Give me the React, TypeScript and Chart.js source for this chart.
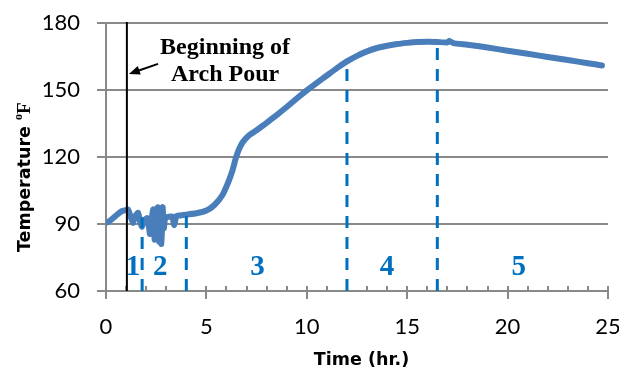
import React, { useEffect, useRef } from "react";
import { Chart, registerables } from "chart.js";

Chart.register(...registerables);

// Measured temperature series (time in hours, temperature in °F)
const timeHr: number[] = [
  0, 0.2, 0.4, 0.6, 0.8, 1.0, 1.1, 1.2, 1.34, 1.45, 1.6, 1.7, 1.79, 1.9, 2.04, 2.12,
  2.19, 2.27, 2.35, 2.42, 2.5, 2.58, 2.64, 2.7, 2.76, 2.82, 2.88, 2.95, 3.1, 3.3,
  3.4, 3.5, 3.7, 4.0, 4.5, 5.0, 5.4, 5.8, 6.1, 6.3, 6.45, 6.6, 6.8, 7.1, 7.5, 8.0,
  8.5, 9.0, 9.5, 10.0, 10.5, 11.0, 11.5, 12.0, 12.5, 13.0, 13.5, 14.0, 14.5, 15.0,
  15.5, 16.0, 16.5, 17.0, 17.1, 17.3, 18.0, 19.0, 20.0, 21.0, 22.0, 23.0, 24.0, 24.7,
];
const tempF: number[] = [
  90.5, 91.5, 93, 94.5, 95.8, 96.3, 96.5, 94, 90.5, 93.5, 95, 91, 88.7, 91.5, 92.7, 90,
  85.5, 92, 96.5, 83, 93, 97.5, 82, 96, 81, 97.5, 88, 93, 93.2, 93.3,
  89.5, 93.5, 93.8, 94.2, 94.8, 96, 98.5, 103, 109, 114, 119, 123, 126.5, 129.5, 132, 135.3,
  138.8, 142.4, 146.2, 149.8, 153.2, 156.5, 159.8, 162.8, 165.3, 167.3, 168.8, 169.8, 170.6, 171.1,
  171.5, 171.6, 171.5, 171.3, 172, 171, 170.3, 169, 167.6, 166.2, 164.8, 163.4, 162, 161,
];

// Phase boundaries (hr) and where each dashed marker meets the curve (°F)
const phaseBoundaries: number[] = [1.8, 4, 12, 16.5];
const phaseBoundaryTops: number[] = [93, 93.5, 163.5, 171.5];
// Phase labels and their anchor times
const phaseLabels: string[] = ["1", "2", "3", "4", "5"];
const phaseLabelTimes: number[] = [1.35, 2.7, 7.55, 14.0, 20.55];
// Start of arch pour
const pourStartHr = 1.04;

const xTicks: number[] = [0, 5, 10, 15, 20, 25];
const yTicks: number[] = [60, 90, 120, 150, 180];

const GRID = "#898989";
const BLUE_LINE = "#4A7EBB";
const BLUE_TEXT = "#0070C0";

const overlayPlugin = {
  id: "overlay",
  afterDatasetsDraw(chart: any) {
    const { ctx, chartArea } = chart;
    const xs = chart.scales.x;
    const ys = chart.scales.y;
    ctx.save();

    // x axis line and ticks
    ctx.strokeStyle = GRID;
    ctx.lineWidth = 2;
    const axisY = ys.getPixelForValue(60);
    ctx.beginPath();
    ctx.moveTo(chartArea.left, axisY);
    ctx.lineTo(xs.getPixelForValue(25) + 1, axisY);
    ctx.stroke();
    for (let t = 0; t <= 25; t++) {
      const px = Math.round(xs.getPixelForValue(t));
      const major = t % 5 === 0;
      ctx.beginPath();
      ctx.moveTo(px, axisY - 5);
      ctx.lineTo(px, axisY + (major ? 8 : 0));
      ctx.stroke();
    }

    // dashed phase boundaries
    ctx.strokeStyle = BLUE_TEXT;
    ctx.lineWidth = 3;
    ctx.setLineDash([12, 9]);
    phaseBoundaries.forEach((t, i) => {
      const px = xs.getPixelForValue(t);
      ctx.beginPath();
      ctx.moveTo(px, axisY);
      ctx.lineTo(px, ys.getPixelForValue(phaseBoundaryTops[i]));
      ctx.stroke();
    });
    ctx.setLineDash([]);

    // pour start line
    ctx.strokeStyle = "#000";
    ctx.lineWidth = 2;
    const bx = xs.getPixelForValue(pourStartHr);
    ctx.beginPath();
    ctx.moveTo(bx, chartArea.top - 1);
    ctx.lineTo(bx, axisY);
    ctx.stroke();

    // arrow
    const ax1 = xs.getPixelForValue(2.59);
    const ay1 = ys.getPixelForValue(161.7);
    const ax2 = bx + 2;
    const ay2 = ys.getPixelForValue(157.2);
    const ang = Math.atan2(ay2 - ay1, ax2 - ax1);
    ctx.lineWidth = 2;
    ctx.beginPath();
    ctx.moveTo(ax1, ay1);
    ctx.lineTo(ax2 - 6 * Math.cos(ang), ay2 - 6 * Math.sin(ang));
    ctx.stroke();
    ctx.fillStyle = "#000";
    ctx.beginPath();
    ctx.moveTo(ax2, ay2);
    ctx.lineTo(ax2 - 11 * Math.cos(ang) + 4.5 * Math.sin(ang), ay2 - 11 * Math.sin(ang) - 4.5 * Math.cos(ang));
    ctx.lineTo(ax2 - 11 * Math.cos(ang) - 4.5 * Math.sin(ang), ay2 - 11 * Math.sin(ang) + 4.5 * Math.cos(ang));
    ctx.closePath();
    ctx.fill();

    // annotation text
    ctx.font = "bold 24px 'Liberation Serif'";
    ctx.textAlign = "center";
    ctx.textBaseline = "alphabetic";
    const tx = xs.getPixelForValue(5.93);
    ctx.fillText("Beginning of", tx, ys.getPixelForValue(166.3));
    ctx.fillText("Arch Pour", tx, ys.getPixelForValue(154.2));

    // phase labels
    ctx.fillStyle = BLUE_TEXT;
    ctx.font = "bold 29px 'Liberation Serif'";
    phaseLabels.forEach((lab, i) => {
      ctx.fillText(lab, xs.getPixelForValue(phaseLabelTimes[i]), ys.getPixelForValue(67.0));
    });

    // axis titles
    ctx.fillStyle = "#000";
    ctx.font = "bold 17.5px 'DejaVu Sans'";
    ctx.textAlign = "center";
    ctx.fillText("Time (hr.)", 361.5, 365);

    ctx.translate(30, 252);
    ctx.rotate(-Math.PI / 2);
    ctx.textAlign = "left";
    ctx.font = "bold 17.5px 'DejaVu Sans'";
    const part1 = "Temperature ";
    ctx.fillText(part1, 0, 0);
    let w = ctx.measureText(part1).width;
    ctx.font = "bold 12px 'Liberation Serif'";
    ctx.fillText("o", w, -8);
    w += ctx.measureText("o").width;
    ctx.font = "bold 19px 'Liberation Serif'";
    ctx.fillText("F", w, 0);

    ctx.restore();
  },
};

export default function App() {
  const ref = useRef<HTMLCanvasElement | null>(null);
  useEffect(() => {
    if (!ref.current) return;
    const chart = new Chart(ref.current, {
      type: "line",
      data: {
        datasets: [
          {
            data: timeHr.map((t, i) => ({ x: t, y: tempF[i] })),
            borderColor: BLUE_LINE,
            borderWidth: 6,
            pointRadius: 0,
            tension: 0.15,
            borderJoinStyle: "round",
            borderCapStyle: "round",
          },
        ],
      },
      options: {
        animation: false,
        responsive: false,
        events: [],
        layout: { padding: { top: 23, right: 11, left: 0, bottom: 0 } },
        plugins: { legend: { display: false }, tooltip: { enabled: false } },
        scales: {
          x: {
            type: "linear",
            min: 0,
            max: 25,
            afterBuildTicks: (s: any) => {
              s.ticks = xTicks.map((v) => ({ value: v }));
            },
            afterFit: (s: any) => {
              s.height = 78;
              s.paddingLeft = 0;
              s.paddingRight = 0;
            },
            ticks: { font: { family: "Lato", size: 22 }, color: "#000", padding: 23, maxRotation: 0 },
            grid: { display: false, drawTicks: false },
            border: { display: false },
          },
          y: {
            min: 60,
            max: 180,
            afterBuildTicks: (s: any) => {
              s.ticks = yTicks.map((v) => ({ value: v }));
            },
            afterFit: (s: any) => {
              s.width = 106;
              s.paddingTop = 0;
              s.paddingBottom = 0;
            },
            ticks: { font: { family: "Lato", size: 22 }, color: "#000", padding: 17 },
            grid: { color: GRID, lineWidth: 2, tickLength: 9, drawTicks: true },
            border: { color: GRID, width: 2 },
          },
        },
      },
      plugins: [overlayPlugin],
    });
    return () => chart.destroy();
  }, []);
  return (
    <div style={{ position: "absolute", left: 0, top: 0, width: 619, height: 369, background: "#fff" }}>
      <canvas ref={ref} width={619} height={369} style={{ width: 619, height: 369 }} />
    </div>
  );
}
